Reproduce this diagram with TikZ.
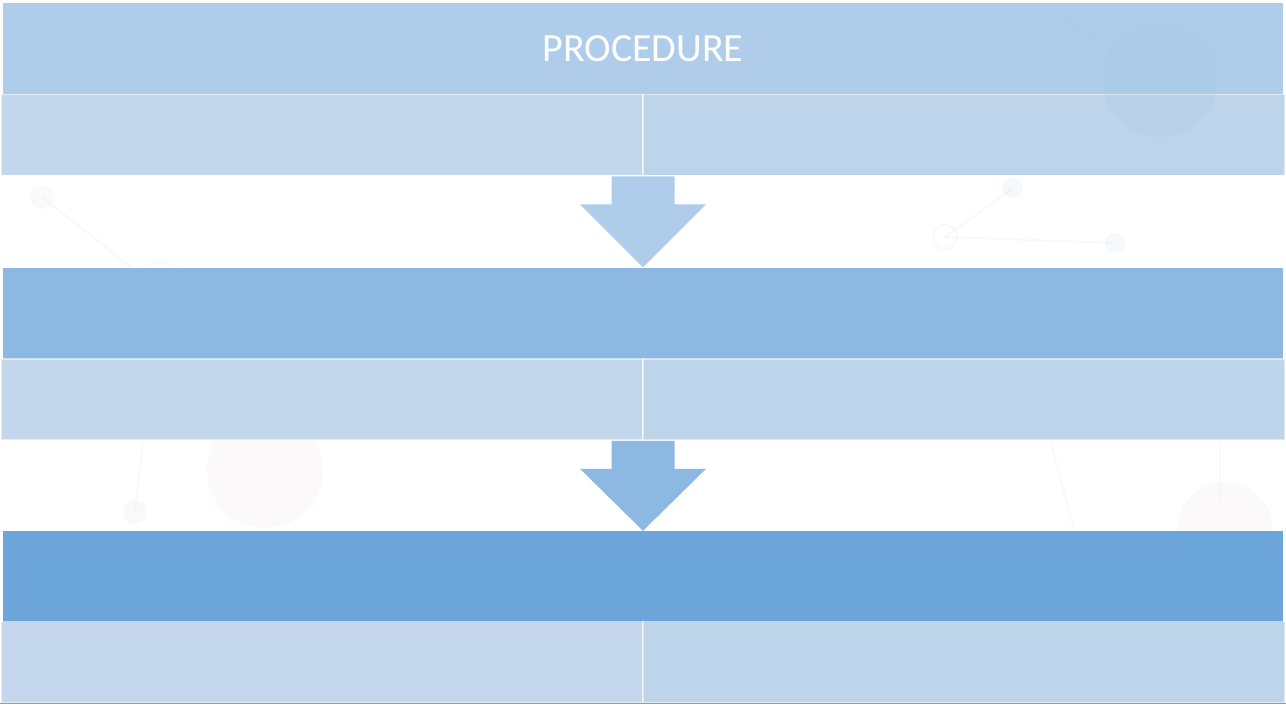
\documentclass[tikz,border=0pt]{standalone}
\usepackage{fontspec}
\setmainfont{Carlito}
\usetikzlibrary{calc}

\definecolor{hdrA}{HTML}{AFCDEA}
\definecolor{hdrB}{HTML}{8CB8E1}
\definecolor{hdrC}{HTML}{6CA5D9}
\definecolor{cellL}{HTML}{C3D7EC}
\definecolor{cellR}{HTML}{BED4EB}
\definecolor{cellLow}{HTML}{C5D7EC}
\definecolor{netBlue}{HTML}{9DC3E6}
\definecolor{netTeal}{HTML}{8FBFD8}
\definecolor{netPink}{HTML}{E8C8D8}
\definecolor{netGrey}{HTML}{C8C8C8}

\tikzset{
  header/.style={rectangle, inner sep=0pt, minimum width=1280pt, minimum height=91pt,
    text=white, font=\fontsize{40}{44}\selectfont},
  cell/.style={rectangle, inner sep=0pt, minimum width=642pt, minimum height=81pt,
    draw=white, draw opacity=0.55, line width=1.6pt},
  net/.style={line width=2pt, opacity=0.10},
}

\begin{document}
\begin{tikzpicture}[x=1pt, y=-1pt]
\useasboundingbox (0,0) rectangle (1286,706);
\fill[white] (0,0) rectangle (1286,706);

% faint molecular network behind the chart
\begin{scope}[net]
  \draw[netGrey] (42,197) -- (160,290) -- (360,285);
  \draw[netGrey] (160,290) -- (135,512);
  \draw[netGrey] (945,237) -- (1013,188);
  \draw[netGrey] (945,237) -- (1115,243);
  \draw[netGrey] (1050,440) -- (1075,533);
  \draw[netGrey] (1220,440) -- (1220,500);
  \draw[netGrey] (160,290) circle (28);
  \draw[netGrey] (945,237) circle (12);
  \fill[netPink] (42,197) circle (12);
  \fill[netPink] (265,470) circle (58);
  \fill[netPink] (1225,530) circle (48);
  \fill[netBlue] (1013,188) circle (10);
  \fill[netBlue] (1115,243) circle (10);
  \fill[netGrey] (135,512) circle (12);
\end{scope}

% stage headers
\node[header, fill=hdrA] (h1) at (643,48.5) {};
\node[header, fill=hdrB] (h2) at (643,313) {};
\node[header, fill=hdrC] (h3) at (643,576.5) {};

% two-column rows under each header
\node[cell, fill=cellL] (r1l) at (322,135) {};
\node[cell, fill=cellR] (r1r) at (964,135) {};
\node[cell, fill=cellL] (r2l) at (322,399.5) {};
\node[cell, fill=cellR] (r2r) at (964,399.5) {};
\node[cell, fill=cellLow] (r3l) at (322,662) {};
\node[cell, fill=cellR] (r3r) at (964,662) {};
\draw[hdrC, line width=1.2pt] (r3l.south west) -- (r3r.south east);

% faint network showing through the top stage
\begin{scope}[opacity=0.12]
  \fill[netTeal] (1160,80) circle (57);
  \draw[netTeal, line width=2pt] (1050,10) -- (1112,50);
  \draw[netTeal, line width=2pt] (1210,50) -- (1283,30);
\end{scope}
\node[text=white, font=\fontsize{40}{44}\selectfont] (title) at (h1.center) {PROCEDURE};

% block arrows between the stages
\coordinate (a1) at ($(r1l.south east)!0.5!(r1r.south west)$);
\coordinate (a2) at ($(r2l.south east)!0.5!(r2r.south west)$);
\fill[hdrA] ($(a1)+(-31.5,0)$) -- ($(a1)+(31.5,0)$) -- ($(a1)+(31.5,28)$)
  -- ($(a1)+(63,28)$) -- (h2.north) -- ($(a1)+(-63,28)$) -- ($(a1)+(-31.5,28)$) -- cycle;
\fill[hdrB] ($(a2)+(-31.5,0)$) -- ($(a2)+(31.5,0)$) -- ($(a2)+(31.5,28)$)
  -- ($(a2)+(63,28)$) -- (h3.north) -- ($(a2)+(-63,28)$) -- ($(a2)+(-31.5,28)$) -- cycle;
\end{tikzpicture}
\end{document}
